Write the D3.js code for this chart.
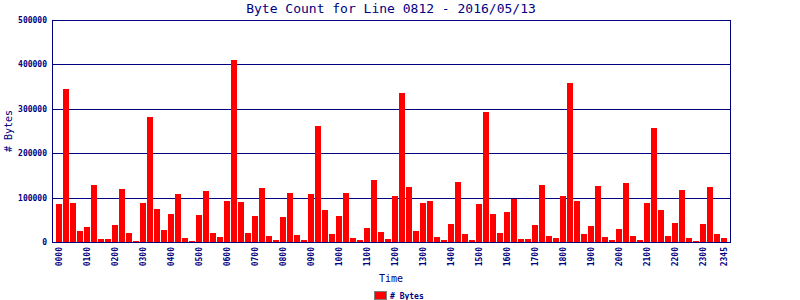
<!DOCTYPE html>
<html>
<head>
<meta charset="utf-8">
<script src="https://cdn.jsdelivr.net/npm/d3@7"></script>
<style>
  body { margin: 0; background: #fff; }
  svg { display: block; font-family: "DejaVu Sans Mono", monospace; }
  .axis path, .axis line { stroke: #000080; }
  .axis text { fill: #000080; font-size: 8px; font-weight: bold; font-family: "DejaVu Sans Mono", monospace; }
</style>
</head>
<body>
<svg width="800" height="300"></svg>
<script>
// time slots, one bar per 15 minutes
var times = d3.range(96).map(function(i) {
    var h = Math.floor(i / 4), m = (i % 4) * 15;
    return (h < 10 ? "0" : "") + h + (m < 10 ? "0" : "") + m;
});

var bytes = [
    86000, 345000, 88500, 25500, 34500, 129000, 7500, 7500,
    39000, 120000, 21000, 3000, 88500, 282000, 75000, 27700,
    64000, 109000, 9700, 3000, 61500, 115500, 21000, 12000,
    93000, 410600, 90800, 21000, 59000, 122000, 14000, 5000,
    57000, 111000, 16500, 5000, 109000, 262000, 73000, 18700,
    59000, 111000, 9700, 5000, 32000, 140000, 23000, 7500,
    104000, 336000, 124500, 25500, 88500, 93000, 12000, 5000,
    41000, 136000, 18700, 5000, 86000, 293500, 64000, 21000,
    68000, 97500, 7500, 7500, 39000, 129000, 14000, 9700,
    104000, 359000, 93000, 18700, 36700, 127000, 12000, 5000,
    30000, 133600, 14000, 5000, 88500, 257500, 73000, 14000,
    43500, 118000, 9700, 3000, 41000, 124500, 18700, 9700
];

var tickLabels = ["0000", "0100", "0200", "0300", "0400", "0500", "0600", "0700",
    "0800", "0900", "1000", "1100", "1200", "1300", "1400", "1500", "1600",
    "1700", "1800", "1900", "2000", "2100", "2200", "2300", "2345"];

var yTicks = [0, 100000, 200000, 300000, 400000, 500000];

var navy = "#000080";
var plotLeft = 52, plotRight = 730, plotTop = 20, plotBottom = 242;

var svg = d3.select("svg");

var x = d3.scaleBand()
    .domain(times)
    .range([55.5, 727.5])
    .paddingInner(1 / 7)
    .paddingOuter(1 / 14);

var y = d3.scaleLinear()
    .domain([0, 500000])
    .range([plotBottom, plotTop]);

// grid lines
svg.append("g")
    .attr("class", "axis grid")
    .attr("transform", "translate(" + plotLeft + ",0)")
    .call(d3.axisLeft(y).tickValues(yTicks).tickSize(-(plotRight - plotLeft)).tickFormat(""))
    .call(function(g) { g.select(".domain").remove(); })
    .selectAll("line")
    .attr("shape-rendering", "crispEdges");

svg.selectAll(".bar")
  .data(bytes)
  .enter().append("rect")
    .attr("class", "bar")
    .attr("x", function(d, i) { return x(times[i]); })
    .attr("y", function(d) { return y(d); })
    .attr("width", x.bandwidth())
    .attr("height", function(d) { return plotBottom - y(d); })
    .attr("fill", "#ff0000")
    .attr("shape-rendering", "crispEdges");

// frame
svg.append("rect")
    .attr("x", plotLeft)
    .attr("y", plotTop)
    .attr("width", plotRight - plotLeft)
    .attr("height", plotBottom - plotTop)
    .attr("fill", "none")
    .attr("stroke", navy)
    .attr("shape-rendering", "crispEdges");

var yAxis = svg.append("g")
    .attr("class", "axis axis--y")
    .attr("transform", "translate(" + plotLeft + ",0)")
    .call(d3.axisLeft(y).tickValues(yTicks).tickSize(0).tickPadding(5).tickFormat(d3.format("d")));
yAxis.select(".domain").remove();

var xAxis = svg.append("g")
    .attr("class", "axis axis--x")
    .attr("transform", "translate(0," + plotBottom + ")")
    .call(d3.axisBottom(x).tickValues(tickLabels).tickSize(0));
xAxis.select(".domain").remove();
xAxis.selectAll("text")
    .attr("transform", "rotate(-90)")
    .attr("text-anchor", "end")
    .attr("x", -5)
    .attr("y", 0)
    .attr("dy", "0.32em");

svg.append("text")
    .attr("x", (plotLeft + plotRight) / 2)
    .attr("y", 13)
    .attr("text-anchor", "middle")
    .attr("fill", navy)
    .attr("font-size", "13px")
    .text("Byte Count for Line 0812 - 2016/05/13");

svg.append("text")
    .attr("x", (plotLeft + plotRight) / 2)
    .attr("y", 282)
    .attr("text-anchor", "middle")
    .attr("fill", navy)
    .attr("font-size", "10px")
    .text("Time");

svg.append("text")
    .attr("transform", "translate(12," + ((plotTop + plotBottom) / 2) + ") rotate(-90)")
    .attr("text-anchor", "middle")
    .attr("fill", navy)
    .attr("font-size", "10px")
    .text("# Bytes");

// legend
var legend = svg.append("g").attr("transform", "translate(374,291)");
legend.append("rect")
    .attr("x", 0.5)
    .attr("y", 0.5)
    .attr("width", 12)
    .attr("height", 8)
    .attr("fill", "#ff0000")
    .attr("stroke", "#808080");
legend.append("text")
    .attr("x", 16)
    .attr("y", 7.5)
    .attr("fill", navy)
    .attr("font-size", "8px")
    .attr("font-weight", "bold")
    .text("# Bytes");
</script>
</body>
</html>
